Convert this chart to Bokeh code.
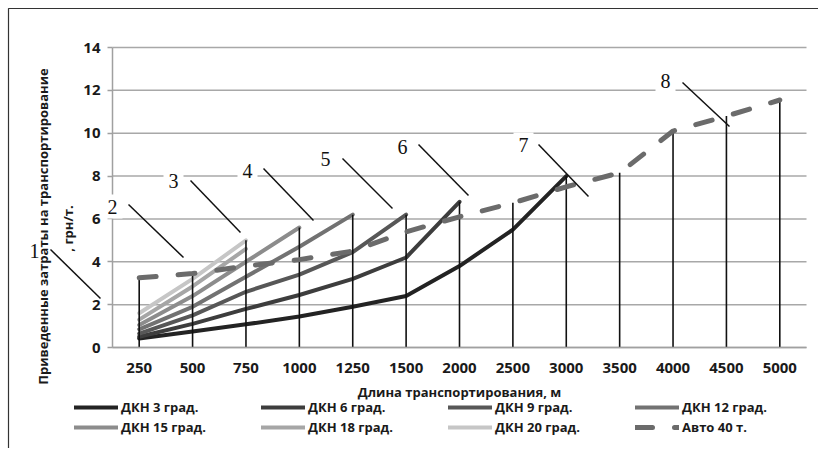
import numpy as np
from bokeh.plotting import figure
from bokeh.models import Range1d, Legend, LegendItem, Label, Arrow, FixedTicker
from bokeh.embed import file_html
from bokeh.resources import INLINE

# ---------------- data ----------------
lengths = ["250", "500", "750", "1000", "1250", "1500", "2000",
           "2500", "3000", "3500", "4000", "4500", "5000"]

dkn3 = [0.42, 0.75, 1.08, 1.45, 1.9, 2.4, 3.8, 5.5, 8.0]
dkn6 = [0.5, 1.1, 1.8, 2.45, 3.2, 4.2, 6.8]
dkn9 = [0.65, 1.5, 2.6, 3.4, 4.45, 6.2]
dkn12 = [0.85, 1.9, 3.3, 4.7, 6.2]
dkn15 = [1.05, 2.4, 4.0, 5.6]
dkn18 = [1.3, 2.85, 4.6]
dkn20 = [1.6, 3.2, 5.0]
auto40 = [3.25, 3.45, 3.8, 4.1, 4.5, 5.4, 6.1, 6.75, 7.5, 8.15, 10.1, 10.8, 11.55]

series_names = ["ДКН 3 град.", "ДКН 6 град.", "ДКН 9 град.", "ДКН 12 град.",
                "ДКН 15 град.", "ДКН 18 град.", "ДКН 20 град."]
auto_name = "Авто 40 т."
y_ticks = [0, 2, 4, 6, 8, 10, 12, 14]
x_title = "Длина транспортирования, м"
y_title_1 = "Приведенные затраты на транспортирование"
y_title_2 = ", грн/т."
callout_numbers = ["1", "2", "3", "4", "5", "6", "7", "8"]

# ---------------- layout / styling ----------------
W, H = 818, 448
PLOT_LEFT, PLOT_RIGHT = 112, 806      # px of category axis ends
PLOT_TOP, PLOT_BOTTOM = 47, 347       # px of y=14 and y=0
Y_MAX = 14
n = len(lengths)
sx = (PLOT_RIGHT - PLOT_LEFT) / n
sy = (PLOT_BOTTOM - PLOT_TOP) / Y_MAX


def px_x(px):
    return (px - PLOT_LEFT) / sx


def py_y(py):
    return (PLOT_BOTTOM - py) / sy


series_colors = ["#232323", "#3d3d3d", "#575757", "#727272", "#8c8c8c", "#a6a6a6", "#c6c6c6"]
auto_color = "#6b6b6b"
font = "Open Sans"
ink = "#1a1a1a"

# callout labels (centre) and leader lines in page pixels
callout_px = [(34, 250), (112, 206), (173, 180), (247, 170),
              (325, 158), (402, 146), (523, 144), (665, 80)]
leader_px = [((50, 249), (100, 298)), ((128, 204), (183, 257)),
             ((190, 180), (240, 232)), ((263, 168), (313, 220)),
             ((342, 158), (392, 208)), ((418, 144), (468, 195)),
             ((538, 144), (588, 196)), ((682, 82), (729, 126))]

x_pos = (np.arange(n) + 0.5).tolist()


def pad(vals):
    return list(vals) + [np.nan] * (n - len(vals))


all_series = [dkn3, dkn6, dkn9, dkn12, dkn15, dkn18, dkn20]

p = figure(x_range=Range1d(px_x(0), px_x(W)), y_range=Range1d(py_y(H), py_y(0)),
           width=W, height=H, min_border=0,
           output_backend="svg", toolbar_location=None)
p.border_fill_color = "white"
p.background_fill_color = "white"
p.outline_line_color = None
p.grid.visible = False

# chart border (top & left, as in the scan)
p.line(x=[px_x(8), px_x(8), px_x(W)], y=[py_y(H), py_y(8), py_y(8)],
       line_color="#333333", line_width=1.2)

# horizontal gridlines across the category span
p.segment(x0=[0] * len(y_ticks), x1=[n] * len(y_ticks), y0=y_ticks, y1=y_ticks,
          line_color="#a8a8a8", line_width=1.5)

# axes fixed at the plot origin
xa, ya = p.xaxis[0], p.yaxis[0]
ya.fixed_location = 0
xa.fixed_location = 0
ya.bounds = (0, Y_MAX)
xa.bounds = (0, n)
ya.ticker = FixedTicker(ticks=y_ticks)
xa.ticker = FixedTicker(ticks=x_pos)
xa.major_label_overrides = {x: lab for x, lab in zip(x_pos, lengths)}
for ax in (xa, ya):
    ax.axis_line_color = "#a0a0a0"
    ax.axis_line_width = 1.5
    ax.major_label_text_font = font
    ax.major_label_text_font_style = "bold"
    ax.major_label_text_font_size = "15px"
    ax.major_label_text_color = ink
    ax.minor_tick_line_color = None
ya.major_tick_line_color = "#a0a0a0"
ya.major_tick_line_width = 1.5
ya.major_tick_out = 5
ya.major_tick_in = 0
ya.major_label_standoff = 7
xa.major_tick_line_color = None
xa.major_tick_out = 0
xa.major_tick_in = 0
xa.major_label_standoff = 15

# series lines
renderers = []
for vals, col in zip(all_series, series_colors):
    r = p.line(x=x_pos, y=pad(vals), line_color=col, line_width=4,
               line_cap="round", line_join="round")
    renderers.append(r)

# drop lines from the highest value at each length
stack = np.array([pad(v) for v in all_series] + [auto40], dtype=float)
tops = np.nanmax(stack, axis=0)
p.segment(x0=x_pos, y0=[0] * n, x1=x_pos, y1=tops.tolist(),
          line_color="#111111", line_width=1.6)

r_auto = p.line(x=x_pos, y=auto40, line_color=auto_color, line_width=5,
                line_dash="17 22", line_cap="round")

# legend
items = [LegendItem(label=nm, renderers=[r]) for nm, r in zip(series_names, renderers)]
items.append(LegendItem(label=auto_name, renderers=[r_auto]))
legend = Legend(items=items, ncols=4, orientation="horizontal",
                location=(74, 12), glyph_width=44, glyph_height=16,
                label_height=16, label_width=138, label_standoff=3, spacing=2,
                padding=0, margin=0,
                label_text_font=font, label_text_font_style="bold",
                label_text_font_size="13px", label_text_color=ink,
                background_fill_alpha=0, border_line_color=None)
p.add_layout(legend, "center")

# x-axis title
p.add_layout(Label(x=n / 2, y=py_y(391), text=x_title, text_align="center",
                   text_baseline="middle", text_font=font, text_font_style="bold",
                   text_font_size="13px", text_color=ink))

# callouts
for i, (num, (cx, cy), ((x0, y0), (x1, y1))) in enumerate(zip(callout_numbers, callout_px, leader_px)):
    p.add_layout(Label(x=px_x(cx), y=py_y(cy), text=num, text_align="center",
                       text_baseline="middle", text_font="Liberation Serif",
                       text_font_size="20px", text_color="#111111",
                       background_fill_color=None if i == 0 else "white",
                       padding=5))
    p.add_layout(Arrow(end=None, x_start=px_x(x0), y_start=py_y(y0),
                       x_end=px_x(x1), y_end=py_y(y1),
                       line_color="#111111", line_width=1.5))

# y-axis title (two lines)
p.add_layout(Label(x=px_x(42), y=py_y(226), text=y_title_1, angle=np.pi / 2,
                   text_align="center", text_baseline="middle",
                   text_font=font, text_font_style="bold", text_font_size="13px",
                   text_color=ink))
p.add_layout(Label(x=px_x(67), y=py_y(228), text=y_title_2, angle=np.pi / 2,
                   text_align="center", text_baseline="middle",
                   text_font=font, text_font_style="bold", text_font_size="13px",
                   text_color=ink))

open("out.html", "w").write(file_html(p, INLINE))
